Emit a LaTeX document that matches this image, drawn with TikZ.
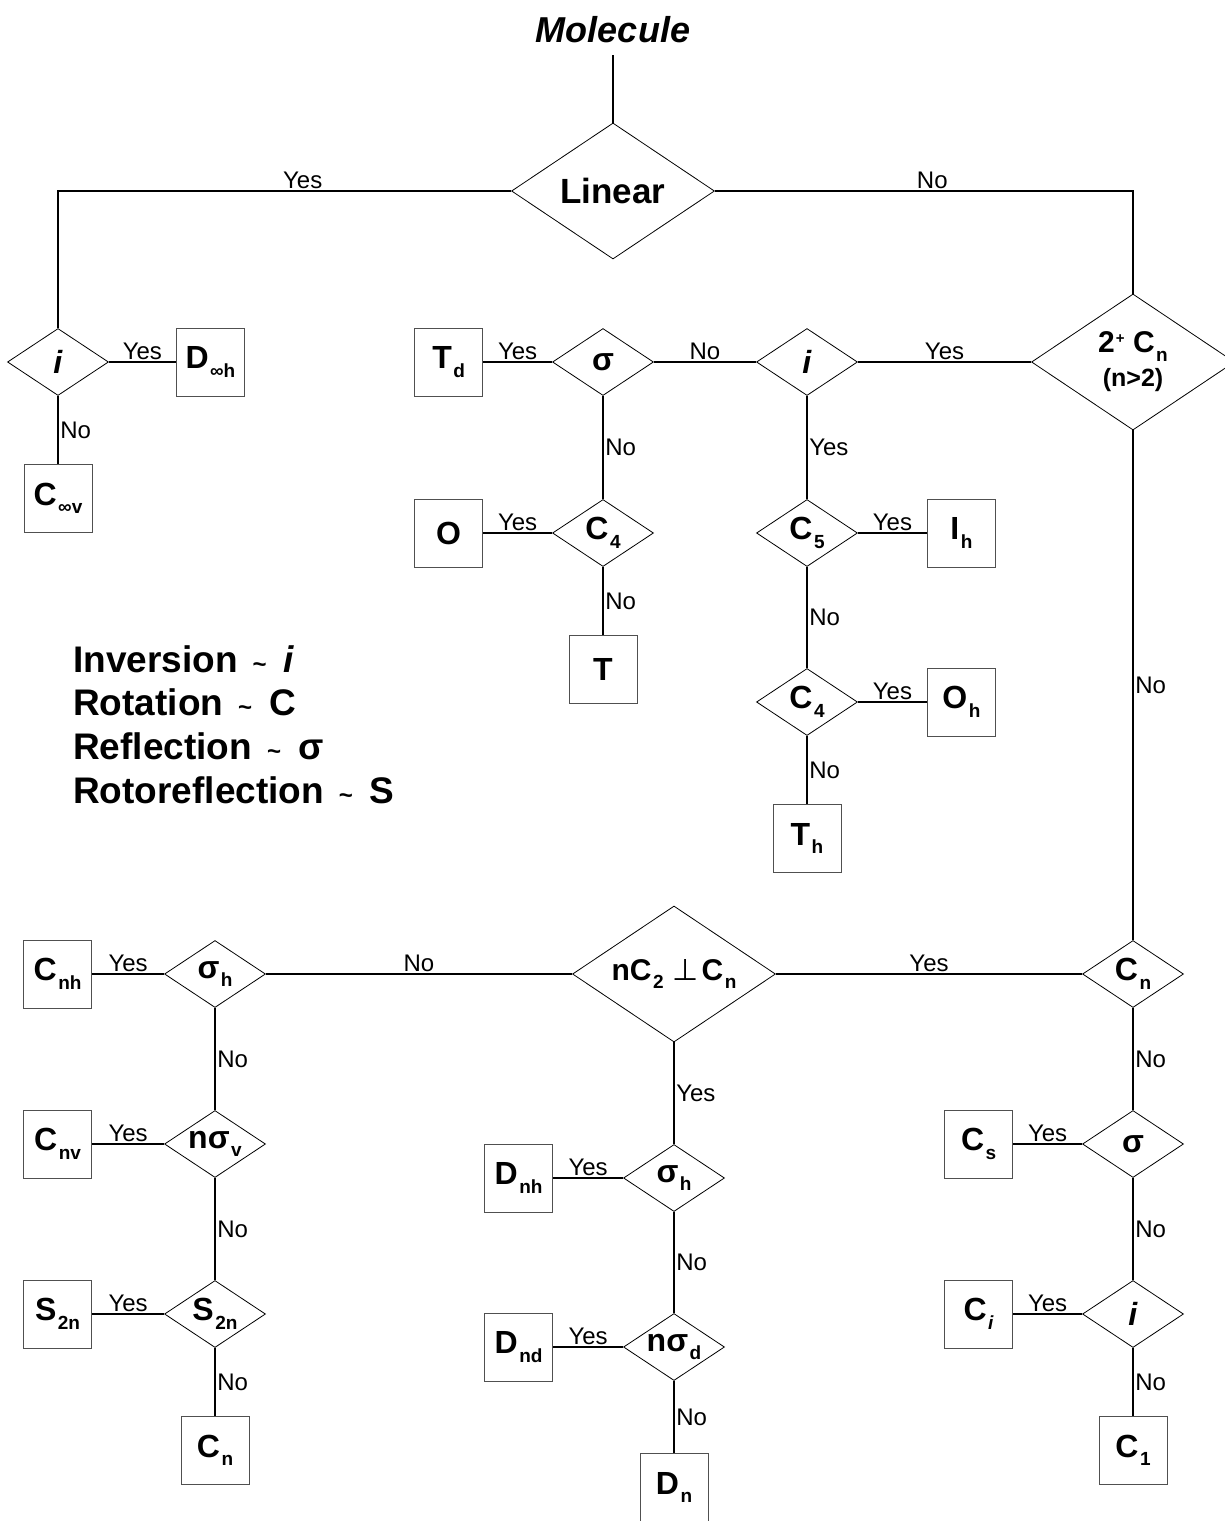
\documentclass[tikz,border=0pt]{standalone}
\usepackage{fontspec}
\setmainfont{Liberation Sans}
\newfontfamily\symFont{DejaVu Sans}
\usepackage{tikz}
\usetikzlibrary{positioning,shapes.geometric}
\definecolor{boxLine}{HTML}{505050}
\newcommand{\subTxt}[1]{\kern1.5pt\raisebox{-8.5pt}{\fontsize{19}{19}\selectfont #1}}
\newcommand{\supTxt}[1]{\kern1pt\raisebox{9pt}{\fontsize{15}{15}\selectfont #1}}
\newcommand{\symTilde}{\hspace{15pt}{\fontsize{24}{24}\selectfont\textasciitilde}\hspace{17pt}}
\tikzset{
  symBox/.style={
    draw=boxLine,
    line width=1pt,
    fill=white,
    minimum width=68pt,
    minimum height=68pt,
    inner sep=0pt,
    font=\bfseries\fontsize{32}{34}\selectfont
  },
  symDecision/.style={
    diamond,
    draw,
    line width=0.8pt,
    fill=white,
    aspect=1.5,
    inner sep=0pt,
    minimum width=101pt,
    minimum height=67pt,
    align=center,
    font=\bfseries\fontsize{32}{34}\selectfont
  },
  symBigDecision/.style={
    symDecision,
    minimum width=203pt,
    minimum height=136pt,
    font=\bfseries\fontsize{30}{34}\selectfont
  },
  symLine/.style={
    line width=1.5pt
  },
  ansLabel/.style={
    font=\fontsize{24}{24}\selectfont,
    inner sep=1.5pt
  },
  legendText/.style={
    anchor=base west,
    inner sep=0pt,
    font=\bfseries\fontsize{37}{40}\selectfont
  }
}

\begin{document}
\begin{tikzpicture}[x=1pt, y=-1pt]
  \useasboundingbox (0,0) rectangle (1225,1521);

  % top of the tree
  \node[font=\bfseries\itshape\fontsize{36}{36}\selectfont, inner sep=0pt] (mol) at (613,30) {Molecule};
  \node[symBigDecision, font=\bfseries\fontsize{35}{40}\selectfont] (linear) at (613,191) {Linear};

  % linear branch
  \node[symDecision] (iLin) at (58,362) {\textit{i}};
  \node[symBox, right=67pt of iLin] (dInfH) {D\subTxt{∞h}};
  \node[symBox, below=68pt of iLin] (cInfV) {C\subTxt{∞v}};

  % cubic and icosahedral groups
  \node[symBigDecision] (twoCn) at (1133,362) {2\supTxt{+} C\subTxt{n}\\{\fontsize{25}{25}\selectfont (n>2)}};
  \node[symDecision] (sigTd) at (603,362) {σ};
  \node[symDecision] (iCub) at (807,362) {\textit{i}};
  \node[symDecision] (cFourA) at (603,533) {C\subTxt{4}};
  \node[symDecision] (cFive) at (807,533) {C\subTxt{5}};
  \node[symDecision] (cFourB) at (807,702) {C\subTxt{4}};
  \node[symBox, left=69pt of sigTd] (tdBox) {T\subTxt{d}};
  \node[symBox, left=69pt of cFourA] (oBox) {O};
  \node[symBox, below=68pt of cFourA] (tBox) {T};
  \node[symBox, right=69pt of cFive] (ihBox) {I\subTxt{h}};
  \node[symBox, right=69pt of cFourB] (ohBox) {O\subTxt{h}};
  \node[symBox, below=68pt of cFourB] (thBox) {T\subTxt{h}};

  % legend
  \foreach \txt [count=\k] in {Inversion\symTilde\textit{i}, Rotation\symTilde C, Reflection\symTilde σ, Rotoreflection\symTilde S}
    \node[legendText] (leg\k) at (73,{628.3+43.7*\k}) {\txt};

  % dihedral and cyclic groups
  \node[symBigDecision] (nTwo) at (674,974) {nC\subTxt{2}\kern9pt{\symFont\mdseries ⊥}\kern3pt C\subTxt{n}};
  \node[symDecision] (sigH) at (215,974) {σ\subTxt{h}};
  \node[symDecision] (nSigV) at (215,1144) {nσ\subTxt{v}};
  \node[symDecision] (sTwoN) at (215,1314) {S\subTxt{2n}};
  \node[symDecision] (sigHD) at (674,1178) {σ\subTxt{h}};
  \node[symDecision] (nSigD) at (674,1347) {nσ\subTxt{d}};
  \node[symDecision] (cnDec) at (1133,974) {C\subTxt{n}};
  \node[symDecision] (sigCs) at (1133,1144) {σ};
  \node[symDecision] (iCi) at (1133,1314) {\textit{i}};

  \node[symBox, left=72pt of sigH] (cnhBox) {C\subTxt{nh}};
  \node[symBox, left=72pt of nSigV] (cnvBox) {C\subTxt{nv}};
  \node[symBox, left=72pt of sTwoN] (sTwoNBox) {S\subTxt{2n}};
  \node[symBox, below=68pt of sTwoN] (cnBox) {C\subTxt{n}};
  \node[symBox, left=70pt of sigHD] (dnhBox) {D\subTxt{nh}};
  \node[symBox, left=70pt of nSigD] (dndBox) {D\subTxt{nd}};
  \node[symBox, below=72pt of nSigD] (dnBox) {D\subTxt{n}};
  \node[symBox, left=69pt of sigCs] (csBox) {C\subTxt{s}};
  \node[symBox, left=69pt of iCi] (ciBox) {C\subTxt{\textit{i}}};
  \node[symBox, below=68pt of iCi] (cOneBox) {C\subTxt{1}};

  % connectors
  \draw[symLine, shorten <=12pt] (mol.south) -- (linear.north);
  \draw[symLine] (linear.west) -| node[ansLabel, pos=0.23, above] {Yes} (iLin.north);
  \draw[symLine] (linear.east) -| node[ansLabel, pos=0.26, above] {No} (twoCn.north);
  \draw[symLine] (iLin.east) -- node[ansLabel, above] {Yes} (dInfH.west);
  \draw[symLine] (iLin.south) -- node[ansLabel, right] {No} (cInfV.north);

  \draw[symLine] (tdBox.east) -- node[ansLabel, above] {Yes} (sigTd.west);
  \draw[symLine] (sigTd.east) -- node[ansLabel, above] {No} (iCub.west);
  \draw[symLine] (iCub.east) -- node[ansLabel, above] {Yes} (twoCn.west);
  \draw[symLine] (sigTd.south) -- node[ansLabel, right] {No} (cFourA.north);
  \draw[symLine] (oBox.east) -- node[ansLabel, above] {Yes} (cFourA.west);
  \draw[symLine] (cFourA.south) -- node[ansLabel, right] {No} (tBox.north);
  \draw[symLine] (iCub.south) -- node[ansLabel, right] {Yes} (cFive.north);
  \draw[symLine] (cFive.east) -- node[ansLabel, above] {Yes} (ihBox.west);
  \draw[symLine] (cFive.south) -- node[ansLabel, right] {No} (cFourB.north);
  \draw[symLine] (cFourB.east) -- node[ansLabel, above] {Yes} (ohBox.west);
  \draw[symLine] (cFourB.south) -- node[ansLabel, right] {No} (thBox.north);

  \draw[symLine] (twoCn.south) -- node[ansLabel, right] {No} (cnDec.north);
  \draw[symLine] (nTwo.east) -- node[ansLabel, above] {Yes} (cnDec.west);
  \draw[symLine] (sigH.east) -- node[ansLabel, above] {No} (nTwo.west);

  \draw[symLine] (cnhBox.east) -- node[ansLabel, above] {Yes} (sigH.west);
  \draw[symLine] (sigH.south) -- node[ansLabel, right] {No} (nSigV.north);
  \draw[symLine] (cnvBox.east) -- node[ansLabel, above] {Yes} (nSigV.west);
  \draw[symLine] (nSigV.south) -- node[ansLabel, right] {No} (sTwoN.north);
  \draw[symLine] (sTwoNBox.east) -- node[ansLabel, above] {Yes} (sTwoN.west);
  \draw[symLine] (sTwoN.south) -- node[ansLabel, right] {No} (cnBox.north);

  \draw[symLine] (nTwo.south) -- node[ansLabel, right] {Yes} (sigHD.north);
  \draw[symLine] (dnhBox.east) -- node[ansLabel, above] {Yes} (sigHD.west);
  \draw[symLine] (sigHD.south) -- node[ansLabel, right] {No} (nSigD.north);
  \draw[symLine] (dndBox.east) -- node[ansLabel, above] {Yes} (nSigD.west);
  \draw[symLine] (nSigD.south) -- node[ansLabel, right] {No} (dnBox.north);

  \draw[symLine] (cnDec.south) -- node[ansLabel, right] {No} (sigCs.north);
  \draw[symLine] (csBox.east) -- node[ansLabel, above] {Yes} (sigCs.west);
  \draw[symLine] (sigCs.south) -- node[ansLabel, right] {No} (iCi.north);
  \draw[symLine] (ciBox.east) -- node[ansLabel, above] {Yes} (iCi.west);
  \draw[symLine] (iCi.south) -- node[ansLabel, right] {No} (cOneBox.north);
\end{tikzpicture}
\end{document}
